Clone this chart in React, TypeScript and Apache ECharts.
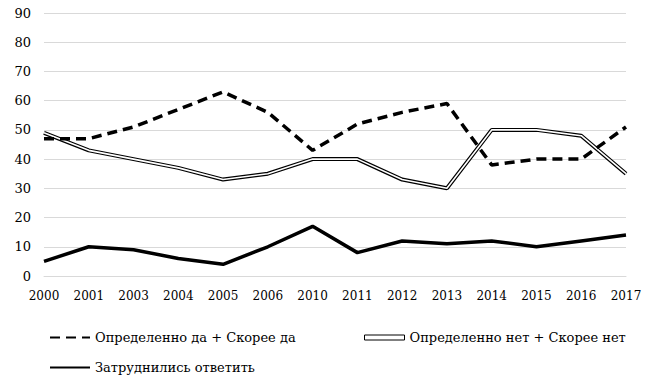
import React, { useEffect, useRef } from "react";
import * as echarts from "echarts";

const years = ["2000", "2001", "2003", "2004", "2005", "2006", "2010", "2011", "2012", "2013", "2014", "2015", "2016", "2017"];
const yesValues = [47, 47, 51, 57, 63, 56, 43, 52, 56, 59, 38, 40, 40, 51];
const noValues = [49, 43, 40, 37, 33, 35, 40, 40, 33, 30, 50, 50, 48, 35];
const hardValues = [5, 10, 9, 6, 4, 10, 17, 8, 12, 11, 12, 10, 12, 14];
const nameYes = "Определенно да + Скорее да";
const nameNo = "Определенно нет + Скорее нет";
const nameHard = "Затруднились ответить";

const FONT = "DejaVu Serif";

export default function App() {
  const ref = useRef<HTMLDivElement>(null);
  useEffect(() => {
    const chart = echarts.init(ref.current!, null, { renderer: "svg" });
    const textStyle = { fontFamily: FONT, fontSize: 13, color: "#000" };
    const hiddenSymbol = { opacity: 0 };
    chart.setOption({
      animation: false,
      backgroundColor: "#fff",
      textStyle: { fontFamily: FONT },
      grid: { left: 44, right: 24, top: 13, bottom: 105 },
      xAxis: {
        type: "category",
        data: years,
        boundaryGap: false,
        axisLine: { lineStyle: { color: "#d9d9d9", width: 1 } },
        axisTick: { show: false },
        axisLabel: { fontFamily: FONT, fontSize: 12, color: "#000", margin: 14, interval: 0 },
      },
      yAxis: {
        type: "value",
        min: 0,
        max: 90,
        interval: 10,
        axisLine: { show: false },
        axisTick: { show: false },
        splitLine: { lineStyle: { color: "#d9d9d9", width: 1 } },
        axisLabel: { fontFamily: FONT, fontSize: 13, color: "#000", margin: 13 },
      },
      legend: [
        {
          left: 44, top: 326, itemWidth: 40, itemHeight: 12, itemGap: 5,
          itemStyle: hiddenSymbol,
          data: [{ name: nameYes }], textStyle,
        },
        {
          left: 359, top: 326, itemWidth: 40, itemHeight: 5, itemGap: 1,
          data: [{ name: nameNo, icon: "rect", itemStyle: { color: "#fff", borderColor: "#000", borderWidth: 1 } }],
          textStyle,
        },
        {
          left: 44, top: 356, itemWidth: 40, itemHeight: 12, itemGap: 3,
          itemStyle: hiddenSymbol,
          data: [{ name: nameHard }], textStyle,
        },
      ],
      series: [
        {
          name: nameYes, type: "line", data: yesValues, symbol: "none",
          lineStyle: { color: "#000", width: 3.5, type: [10, 6] },
          itemStyle: { color: "#000" }, z: 3,
        },
        {
          name: nameNo, type: "line", data: noValues, symbol: "none",
          lineStyle: { color: "#000", width: 4 }, itemStyle: { color: "#000" }, z: 2,
        },
        {
          name: "noInner", type: "line", data: noValues, symbol: "none",
          lineStyle: { color: "#fff", width: 1.6 }, itemStyle: { color: "#fff" }, z: 2,
        },
        {
          name: nameHard, type: "line", data: hardValues, symbol: "none",
          lineStyle: { color: "#000", width: 3.5 }, itemStyle: { color: "#000" }, z: 3,
        },
      ],
    });
    return () => chart.dispose();
  }, []);
  return <div ref={ref} style={{ position: "fixed", left: 0, top: 0, width: 650, height: 381 }} />;
}
